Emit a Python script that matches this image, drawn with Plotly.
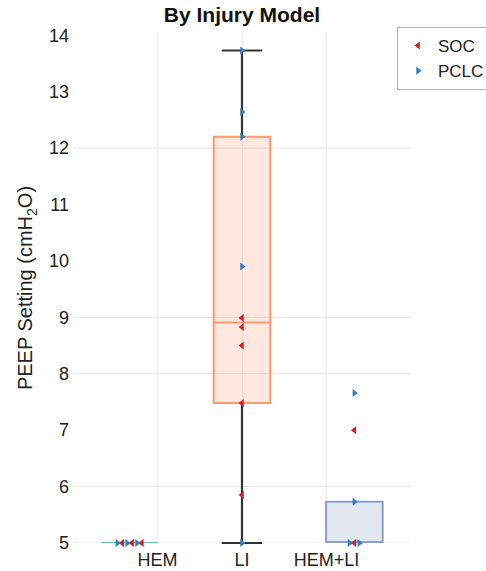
import numpy as np
import plotly.graph_objects as go

# ---- data ----
categories = ["HEM", "LI", "HEM+LI"]

soc_hem = [5.0, 5.0, 5.0]
soc_li = [8.99, 8.83, 8.50, 7.48, 5.85]
soc_hemli = [7.00, 5.00]

pclc_hem = [5.0, 5.0, 5.0]
pclc_li = [13.73, 12.64, 12.20, 9.90, 5.00]
pclc_hemli = [7.66, 5.73, 5.00, 5.00]

box_lower = [5.0, 5.00, 5.00]
box_q1 = [5.0, 7.48, 5.00]
box_median = [5.0, 8.91, 5.00]
box_q3 = [5.0, 12.20, 5.73]
box_upper = [5.0, 13.73, 5.73]

y_ticks = [5, 6, 7, 8, 9, 10, 11, 12, 13, 14]
grid_levels = [5, 6, 8, 9, 12]

# ---- styling ----
box_line = ["#66c2a5", "#f79a72", "#8da0cb"]
box_fill = ["rgba(102,194,165,0.2)", "rgba(252,141,98,0.2)", "rgba(141,160,203,0.25)"]
soc_color = "#e0181c"
pclc_color = "#2f7fc1"
font_family = "Liberation Sans, Arial, Helvetica, sans-serif"

tick_pos = np.arange(1, len(categories) + 1)
box_spacing = 1.33
box_pos = tick_pos[1] + (np.arange(len(categories)) - 1) * box_spacing
box_width = 0.67
spread = 0.058  # horizontal spacing for coincident points

fig = go.Figure()

for i, cat in enumerate(categories):
    fig.add_trace(go.Box(
        x=[box_pos[i]], q1=[box_q1[i]], median=[box_median[i]], q3=[box_q3[i]],
        lowerfence=[box_q1[i]], upperfence=[box_q3[i]],
        width=box_width, line=dict(color=box_line[i], width=2),
        fillcolor=box_fill[i], boxpoints=False, showlegend=False, hoverinfo="skip",
    ))

# whiskers with caps
wx, wy, cx, cy = [], [], [], []
for i in range(len(categories)):
    if box_upper[i] > box_q3[i]:
        wx += [box_pos[i], box_pos[i], None]
        wy += [box_q3[i], box_upper[i], None]
        cx.append(box_pos[i]); cy.append(box_upper[i])
    if box_lower[i] < box_q1[i]:
        wx += [box_pos[i], box_pos[i], None]
        wy += [box_q1[i], box_lower[i], None]
        cx.append(box_pos[i]); cy.append(box_lower[i])
fig.add_trace(go.Scatter(x=wx, y=wy, mode="lines", line=dict(color="#333333", width=2.2),
                         showlegend=False, hoverinfo="skip"))
fig.add_trace(go.Scatter(x=cx, y=cy, mode="markers",
                         marker=dict(symbol="line-ew", size=29, line=dict(color="#333333", width=2.2)),
                         showlegend=False, hoverinfo="skip", cliponaxis=False))

# points: spread coincident values horizontally
groups = [(soc_hem, pclc_hem), (soc_li, pclc_li), (soc_hemli, pclc_hemli)]
soc_x, soc_y, pclc_x, pclc_y = [], [], [], []
for i, (s, p) in enumerate(groups):
    entries = [("s", v) for v in s] + [("p", v) for v in p]
    vals = {}
    for kind, v in entries:
        vals.setdefault(v, []).append(kind)
    for v, kinds in vals.items():
        n = len(kinds)
        if n > 1:
            ss = [k for k in kinds if k == "s"]
            pp = [k for k in kinds if k == "p"]
            order = []
            while ss or pp:
                if pp:
                    order.append(pp.pop())
                if ss:
                    order.append(ss.pop())
            kinds = order
        offs = (np.arange(n) - (n - 1) / 2) * spread
        for k, o in zip(kinds, offs):
            if k == "s":
                soc_x.append(box_pos[i] + o); soc_y.append(v)
            else:
                pclc_x.append(box_pos[i] + o); pclc_y.append(v)

fig.add_trace(go.Scatter(x=soc_x, y=soc_y, mode="markers", name="SOC",
                         marker=dict(symbol="triangle-left", size=7, color=soc_color),
                         cliponaxis=False))
fig.add_trace(go.Scatter(x=pclc_x, y=pclc_y, mode="markers", name="PCLC",
                         marker=dict(symbol="triangle-right", size=7, color=pclc_color),
                         cliponaxis=False))

for g in grid_levels:
    fig.add_hline(y=g, line=dict(color="#e6e6e6", width=1), layer="below")

fig.update_layout(
    width=486, height=571,
    margin=dict(l=73, r=75, t=33, b=28, autoexpand=False),
    paper_bgcolor="white", plot_bgcolor="white",
    font=dict(family=font_family, color="#222222"),
    title=dict(text="<b>By Injury Model</b>", x=0.5, xref="paper", xanchor="center",
               y=1 - 15 / 571, yref="container", yanchor="middle",
               font=dict(size=21, color="#111111")),
    xaxis=dict(range=[0, 4], tickmode="array", tickvals=tick_pos, ticktext=categories,
               showgrid=True, gridcolor="#eeeeee", zeroline=False, showline=False, ticks="",
               automargin=False, ticklabelstandoff=4, tickfont=dict(size=18, color="#222222")),
    yaxis=dict(range=[5, 14.04], tickmode="array", tickvals=y_ticks, showgrid=False,
               zeroline=False, showline=False, ticks="", automargin=False, ticklabelstandoff=3,
               tickfont=dict(size=18, color="#222222"),
               title=dict(text="PEEP Setting (cmH<sub>2</sub>O)", font=dict(size=20, color="#222222"),
                          standoff=10)),
    legend=dict(xref="container", x=397 / 486, xanchor="left",
                yref="container", y=1 - 27 / 571, yanchor="top", bgcolor="white",
                bordercolor="#b0b0b0", borderwidth=1, font=dict(size=17, color="#222222"),
                itemwidth=30, tracegroupgap=0),
    showlegend=True,
)

fig.write_html("out.html")
